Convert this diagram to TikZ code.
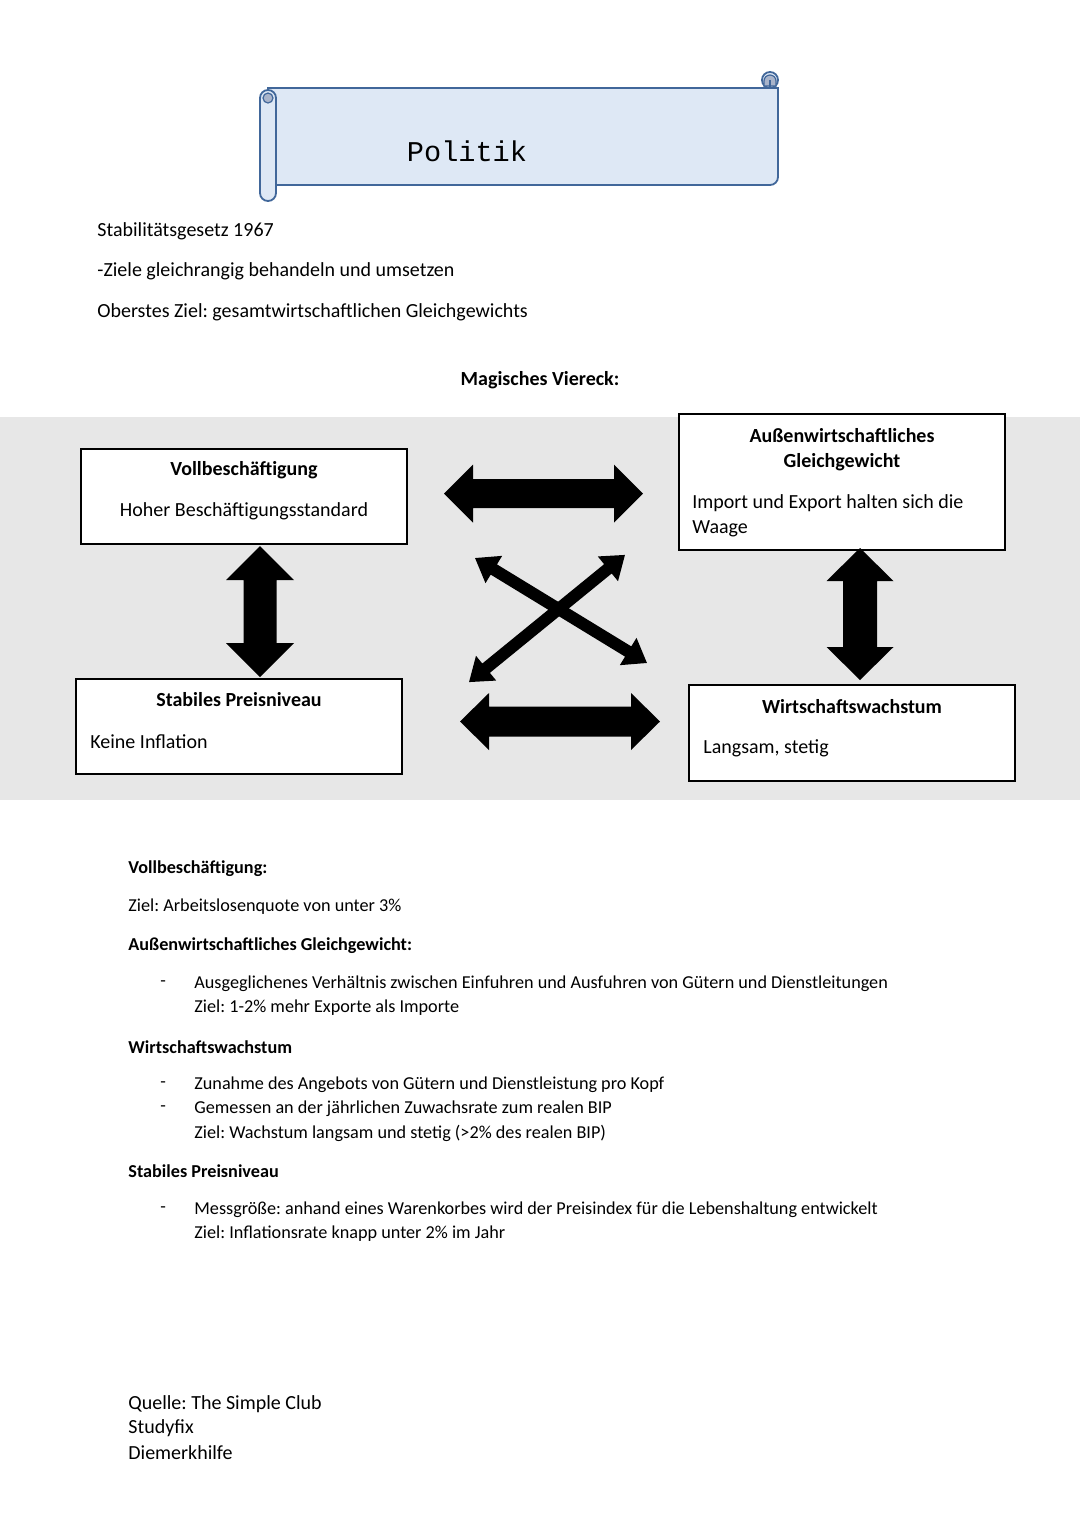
\documentclass[tikz,border=0pt]{standalone}
\usepackage{fontspec}
\setmainfont{Carlito}
\newfontfamily\monofont{Liberation Mono}
\frenchspacing
\definecolor{band}{HTML}{E7E7E7}
\definecolor{scrollfill}{HTML}{DEE8F5}
\definecolor{scrolldraw}{HTML}{41679A}
\definecolor{curlfill}{HTML}{A9B4CA}
\newcommand{\DArr}[7]{\begin{scope}[shift={(#1,#2)},rotate=#3]\fill (-#4,0) -- (-#4+#5,-#6) -- (-#4+#5,-#7) -- (#4-#5,-#7) -- (#4-#5,-#6) -- (#4,0) -- (#4-#5,#6) -- (#4-#5,#7) -- (-#4+#5,#7) -- (-#4+#5,#6) -- cycle;\end{scope}}
\begin{document}
\begin{tikzpicture}[x=0.5pt,y=-0.5pt,
  txt/.style={anchor=west,inner sep=0pt,yshift=-1pt,font=\fontsize{10pt}{12pt}\selectfont},
  ctxt/.style={inner sep=0pt,yshift=-1pt,font=\fontsize{10pt}{12pt}\selectfont},
  btxt/.style={inner sep=0pt,yshift=-1pt,font=\fontsize{10pt}{12pt}\selectfont\bfseries},
  stxt/.style={anchor=west,inner sep=0pt,yshift=-1pt,font=\fontsize{9.1pt}{11pt}\selectfont},
  sbtxt/.style={anchor=west,inner sep=0pt,yshift=-1pt,font=\fontsize{9.1pt}{11pt}\selectfont\bfseries},
  boxl/.style={draw=black,line width=0.7pt,fill=white},
  scr/.style={draw=scrolldraw,line width=0.9pt,fill=scrollfill}]
\useasboundingbox (0,0) rectangle (1080,1527);
\fill[white] (0,0) rectangle (1080,1527);
% scroll banner
\draw[scr] (268,88) -- (778,88) -- (778,177) arc[start angle=0,end angle=90,radius=8] -- (268,185) -- cycle;
\draw[scr] (770,80) circle[radius=8];
\fill[curlfill,draw=scrolldraw,line width=0.6pt] (764,86) -- (764,81) arc[start angle=180,end angle=360,radius=6] -- (776,86) -- cycle;
\draw[scrolldraw,line width=0.6pt] (770,80) -- (770,88);
\draw[scr] (276,98) -- (276,193) arc[start angle=0,end angle=180,radius=8] -- (260,98) arc[start angle=180,end angle=360,radius=8] -- cycle;
\fill[curlfill,draw=scrolldraw,line width=0.6pt] (268,98) circle[radius=5];
\node[inner sep=0pt,font=\monofont\fontsize{14.3pt}{16pt}\selectfont] (title) at (467,151) {Politik};
% intro text
\node[txt] (t1) at (97,229) {Stabilitätsgesetz 1967};
\node[txt] (t2) at (97,269) {-Ziele gleichrangig behandeln und umsetzen};
\node[txt] (t3) at (97,310) {Oberstes Ziel: gesamtwirtschaftlichen Gleichgewichts};
\node[btxt] (mv) at (540,378) {Magisches Viereck:};
% band
\fill[band] (0,417) rectangle (1080,800);
% boxes
\draw[boxl] (81,449) rectangle (407,544);
\node[btxt] (vbT) at (244,468) {Vollbeschäftigung};
\node[ctxt] (vbS) at (244,509) {Hoher Beschäftigungsstandard};
\draw[boxl] (679,414) rectangle (1005,550);
\node[btxt] (agT1) at (842,434) {Außenwirtschaftliches};
\node[btxt] (agT2) at (842,460) {Gleichgewicht};
\node[txt] (agS1) at (692,501) {Import und Export halten sich die};
\node[txt] (agS2) at (692,527) {Waage};
\draw[boxl] (76,679) rectangle (402,774);
\node[btxt] (spT) at (239,698) {Stabiles Preisniveau};
\node[txt] (spS) at (90,740) {Keine Inflation};
\draw[boxl] (689,685) rectangle (1015,781);
\node[btxt] (wwT) at (852,705) {Wirtschaftswachstum};
\node[txt] (wwS) at (703,746) {Langsam, stetig};
% arrows
\DArr{543.5}{493.5}{0}{99.5}{29}{29}{14.5}
\DArr{560}{721.5}{0}{100}{29}{28.5}{15}
\DArr{260}{611.5}{90}{65.5}{34}{34}{16.5}
\DArr{860}{614}{90}{66}{33}{33.5}{17}
\DArr{561}{610.5}{-31.4}{100.7}{22}{16}{6}
\DArr{547}{618.5}{-140.8}{100.6}{22}{16}{6}
% lower text
\node[sbtxt] (l1) at (128,867) {Vollbeschäftigung:};
\node[stxt] (l2) at (128,905) {Ziel: Arbeitslosenquote von unter 3\%};
\node[sbtxt] (l3) at (128,944) {Außenwirtschaftliches Gleichgewicht:};
\node[stxt] (d1) at (160,982) {-};
\node[stxt] (l4) at (194,982) {Ausgeglichenes Verhältnis zwischen Einfuhren und Ausfuhren von Gütern und Dienstleitungen};
\node[stxt] (l5) at (194,1006) {Ziel: 1-2\% mehr Exporte als Importe};
\node[sbtxt] (l6) at (128,1045) {Wirtschaftswachstum};
\node[stxt] (d2) at (160,1083) {-};
\node[stxt] (l7) at (194,1083) {Zunahme des Angebots von Gütern und Dienstleistung pro Kopf};
\node[stxt] (d3) at (160,1107) {-};
\node[stxt] (l8) at (194,1107) {Gemessen an der jährlichen Zuwachsrate zum realen BIP};
\node[stxt] (l9) at (194,1131) {Ziel: Wachstum langsam und stetig (>2\% des realen BIP)};
\node[sbtxt] (l10) at (128,1169) {Stabiles Preisniveau};
\node[stxt] (d4) at (160,1208) {-};
\node[stxt] (l11) at (194,1208) {Messgröße: anhand eines Warenkorbes wird der Preisindex für die Lebenshaltung entwickelt};
\node[stxt] (l12) at (194,1232) {Ziel: Inflationsrate knapp unter 2\% im Jahr};
\node[txt] (q1) at (128,1402) {Quelle: The Simple Club};
\node[txt] (q2) at (128,1426) {Studyfix};
\node[txt] (q3) at (128,1451) {Diemerkhilfe};
\end{tikzpicture}
\end{document}
